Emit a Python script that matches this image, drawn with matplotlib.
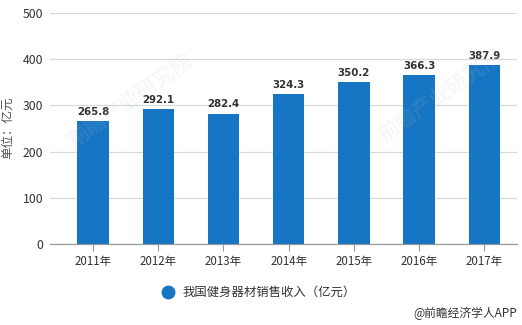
import matplotlib
matplotlib.use("Agg")
import matplotlib.pyplot as plt
from matplotlib.lines import Line2D

plt.rcParams['font.family'] = ['Noto Sans CJK SC', 'DejaVu Sans']

years = ["2011年", "2012年", "2013年", "2014年", "2015年", "2016年", "2017年"]
revenue = [265.8, 292.1, 282.4, 324.3, 350.2, 366.3, 387.9]
y_ticks = [0, 100, 200, 300, 400, 500]
series_name = "我国健身器材销售收入（亿元）"

BAR = "#1776c4"
GRID = "#d9d9d9"
TXT = "#333333"

fig = plt.figure(figsize=(5.22, 3.25), dpi=100)
W, H = 522, 325
ax = fig.add_axes([50 / W, 1 - 244 / H, (517 - 50) / W, (244 - 13) / H])

x = list(range(len(years)))
ax.bar(x, revenue, width=0.48, color=BAR, zorder=3)
for xi, v in zip(x, revenue):
    ax.text(xi, v + 9, f"{v:.1f}", ha="center", va="bottom",
            fontsize=7.4, fontweight="bold", color=TXT, family="DejaVu Sans", zorder=4)

ax.set_ylim(0, 500)
ax.set_xlim(-0.659, len(years) - 0.5)
ax.set_yticks(y_ticks)
ax.set_yticklabels([str(t) for t in y_ticks])
ax.set_xticks(x)
ax.set_xticklabels(years)

ax.grid(axis="y", color=GRID, linewidth=0.9, zorder=0)
for side in ("top", "right", "left"):
    ax.spines[side].set_visible(False)
ax.spines["bottom"].set_color("#999999")
ax.spines["bottom"].set_linewidth(0.9)
ax.tick_params(axis="y", length=0, pad=5, labelsize=8.8, labelcolor=TXT)
ax.tick_params(axis="x", length=5, width=0.8, color="#999999", pad=3,
               labelsize=8.3, labelcolor=TXT)

fig.text(8 / W, 1 - 128 / H, "单位：亿元", rotation=90, ha="center", va="center",
         fontsize=9, color="#555555")

# legend
fig.add_artist(Line2D([168 / W], [1 - 292 / H], marker="o", markersize=9,
                      color=BAR, linestyle="none", transform=fig.transFigure))
fig.text(183 / W, 1 - 292 / H, series_name, ha="left", va="center",
         fontsize=8.9, color=TXT)

# source credit
fig.text(517 / W, 1 - 313 / H, "@前瞻经济学人APP", ha="right", va="center",
         fontsize=8.5, color=TXT)

# faint diagonal watermarks
for (wx, wy) in [(130, 100), (440, 95)]:
    fig.text(wx / W, 1 - wy / H, "前瞻产业研究院", rotation=35, ha="center",
             va="center", fontsize=15, fontweight="bold", color="#bbbbbb",
             alpha=0.12, zorder=5)

fig.savefig("out.png", dpi=100, facecolor="white")
